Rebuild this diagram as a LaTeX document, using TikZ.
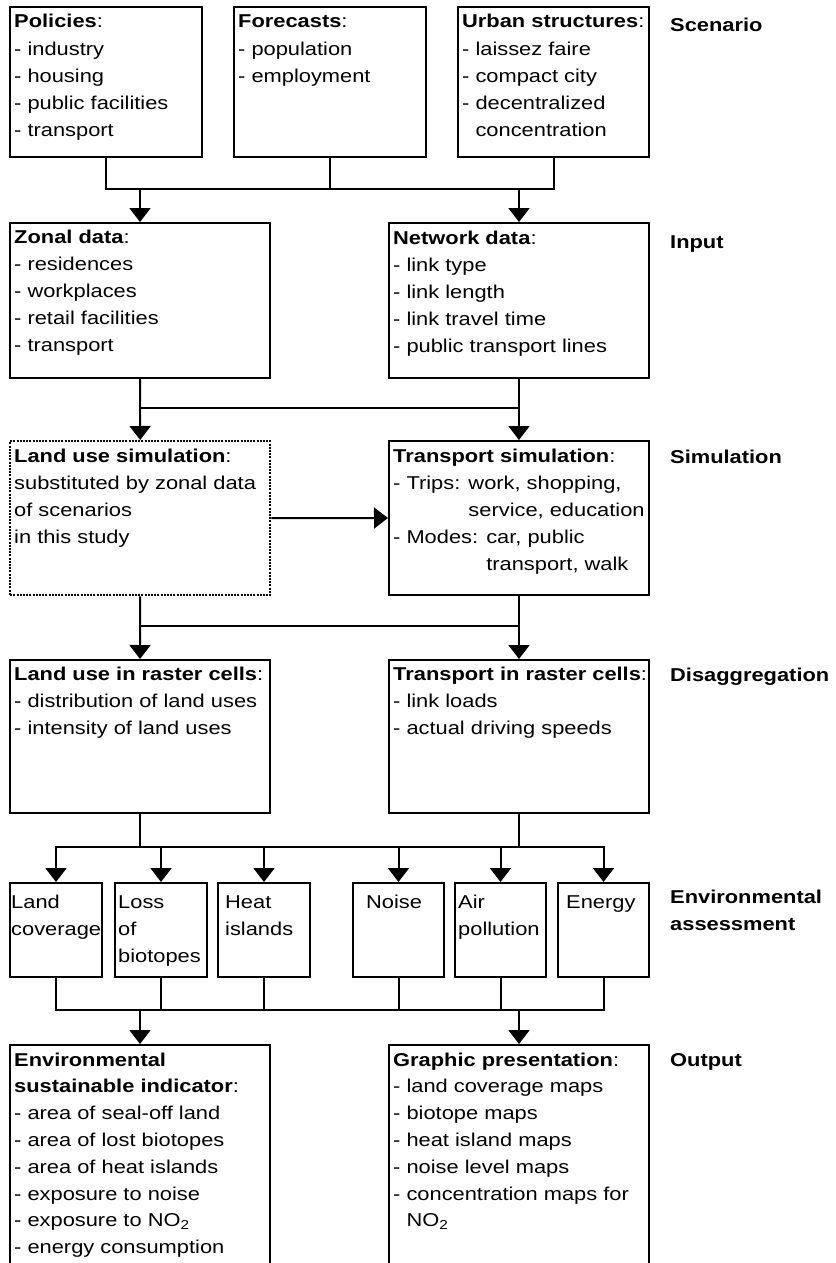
\documentclass[tikz,border=0pt]{standalone}
\usepackage{fontspec}
\setmainfont{Liberation Sans}[FakeStretch=1.175]
\usetikzlibrary{arrows.meta}

% multi-line box text; baseline of the node is the first line
\newcommand\lines[1]{\begin{tabular}[t]{@{}l@{}}#1\end{tabular}}
\newcommand\bodyfont{\fontsize{18.6}{27.2}\selectfont}

\tikzset{
  box/.style={draw, line width=2pt, anchor=north west, inner sep=0pt},
  dotbox/.style={box, line width=2.4pt, dash pattern=on 2pt off 1.2pt},
  txt/.style={anchor=base west, inner sep=0pt},
  wire/.style={line width=2pt, line cap=rect},
  arr/.style={line width=2pt, -{Triangle[width=21pt,length=14pt]}},
  stage/.style={anchor=base west, inner sep=0pt, font=\bodyfont\bfseries},
}

\begin{document}
\begin{tikzpicture}[x=1pt, y=-1pt, font=\bodyfont]
\clip (0,0) rectangle (835,1263);
\fill[white] (0,0) rectangle (835,1263);

% ---------- Scenario ----------
\node[box, minimum width=192pt, minimum height=150pt] (pol) at (9,6) {};
\node[box, minimum width=192pt, minimum height=150pt] (fore) at (233,6) {};
\node[box, minimum width=191pt, minimum height=150pt] (urb) at (457,6) {};
\node[txt] (polT) at ([xshift=5pt,yshift=-22pt]pol.north west)
  {\lines{\textbf{Policies}:\\- industry\\- housing\\- public facilities\\- transport}};
\node[txt] (foreT) at ([xshift=5pt,yshift=-22pt]fore.north west)
  {\lines{\textbf{Forecasts}:\\- population\\- employment}};
\node[txt] (urbT) at ([xshift=5pt,yshift=-22pt]urb.north west)
  {\lines{\textbf{Urban structures}:\\- laissez faire\\- compact city\\- decentralized\\\phantom{- }concentration}};

% ---------- Input ----------
\node[box, minimum width=260pt, minimum height=155pt] (zon) at (9,222) {};
\node[box, minimum width=260pt, minimum height=155pt] (net) at (388,222) {};
\node[txt] (zonT) at ([xshift=5pt,yshift=-21pt]zon.north west)
  {\lines{\textbf{Zonal data}:\\- residences\\- workplaces\\- retail facilities\\- transport}};
\node[txt] (netT) at ([xshift=5pt,yshift=-22pt]net.north west)
  {\lines{\textbf{Network data}:\\- link type\\- link length\\- link travel time\\- public transport lines}};

% ---------- Simulation ----------
\node[dotbox, minimum width=260pt, minimum height=154pt] (lus) at (9,440) {};
\node[box, minimum width=260pt, minimum height=154pt] (tsim) at (388,440) {};
\node[txt] (lusT) at ([xshift=5pt,yshift=-22pt]lus.north west)
  {\lines{\textbf{Land use simulation}:\\substituted by zonal data\\of scenarios\\in this study}};
\node[txt] (tsimT) at ([xshift=5pt,yshift=-22pt]tsim.north west)
  {\lines{\textbf{Transport simulation}:\\- Trips: work, shopping,\\\phantom{- Trips: }service, education\\- Modes: car, public\\\phantom{- Modes: }transport, walk}};

% ---------- Disaggregation ----------
\node[box, minimum width=260pt, minimum height=153pt] (lur) at (9,659) {};
\node[box, minimum width=260pt, minimum height=153pt] (trr) at (388,659) {};
\node[txt] (lurT) at ([xshift=5pt,yshift=-21pt]lur.north west)
  {\lines{\textbf{Land use in raster cells}:\\- distribution of land uses\\- intensity of land uses}};
\node[txt] (trrT) at ([xshift=5pt,yshift=-21pt]trr.north west)
  {\lines{\textbf{Transport in raster cells}:\\- link loads\\- actual driving speeds}};

% ---------- Environmental assessment ----------
\node[box, minimum width=92pt, minimum height=94pt] (e1) at (9,882) {};
\node[box, minimum width=92pt, minimum height=94pt] (e2) at (114,882) {};
\node[box, minimum width=92pt, minimum height=94pt] (e3) at (217,882) {};
\node[box, minimum width=91pt, minimum height=94pt] (e4) at (352,882) {};
\node[box, minimum width=91pt, minimum height=94pt] (e5) at (454,882) {};
\node[box, minimum width=91pt, minimum height=94pt] (e6) at (557,882) {};
\node[txt] (e1T) at ([xshift=2pt,yshift=-26pt]e1.north west) {\lines{Land\\coverage}};
\node[txt] (e2T) at ([xshift=4pt,yshift=-26pt]e2.north west) {\lines{Loss\\of\\biotopes}};
\node[txt] (e3T) at ([xshift=8pt,yshift=-26pt]e3.north west) {\lines{Heat\\islands}};
\node[txt] (e4T) at ([xshift=14pt,yshift=-26pt]e4.north west) {\lines{Noise}};
\node[txt] (e5T) at ([xshift=4pt,yshift=-26pt]e5.north west) {\lines{Air\\pollution}};
\node[txt] (e6T) at ([xshift=9pt,yshift=-26pt]e6.north west) {\lines{Energy}};

% ---------- Output ----------
\node[box, minimum width=260pt, minimum height=240pt] (ind) at (9,1044) {};
\node[box, minimum width=260pt, minimum height=240pt] (gra) at (388,1044) {};
\node[txt] (indT) at ([xshift=5pt,yshift=-22pt]ind.north west)
  {\fontsize{18.6}{26.8}\selectfont\lines{\textbf{Environmental}\\\textbf{sustainable indicator}:\\- area of seal-off land\\- area of lost biotopes\\- area of heat islands\\- exposure to noise\\- exposure to NO\textsubscript{2}\\- energy consumption}};
\node[txt] (graT) at ([xshift=5pt,yshift=-22pt]gra.north west)
  {\fontsize{18.6}{26.8}\selectfont\lines{\textbf{Graphic presentation}:\\- land coverage maps\\- biotope maps\\- heat island maps\\- noise level maps\\- concentration maps for\\\phantom{- }NO\textsubscript{2}}};

% ---------- stage labels ----------
\node[stage] (sScen) at (670,32) {Scenario};
\node[stage] (sInp) at (670,248) {Input};
\node[stage] (sSim) at (670,463) {Simulation};
\node[stage] (sDis) at (670,681) {Disaggregation};
\node[stage] (sEnv) at (670,903) {\lines{Environmental\\assessment}};
\node[stage] (sOut) at (670,1066) {Output};

% ---------- connectors ----------
\coordinate (busA) at (0,189);
\coordinate (busB) at (0,408);
\coordinate (busC) at (0,626);
\coordinate (busD) at (0,847);
\coordinate (busE) at (0,1010);

% scenario -> input
\draw[wire] (pol.south) |- (urb.south |- busA) -- (urb.south);
\draw[wire] (fore.south) -- (fore.south |- busA);
\draw[arr] (zon.north |- busA) -- (zon.north);
\draw[arr] (net.north |- busA) -- (net.north);

% input -> simulation
\draw[wire] (zon.south |- busB) -- (net.south |- busB);
\draw[arr] (zon.south) -- (lus.north);
\draw[arr] (net.south) -- (tsim.north);
\draw[arr] (lus.east) -- (tsim.west);

% simulation -> disaggregation
\draw[wire] (lus.south |- busC) -- (tsim.south |- busC);
\draw[arr] (lus.south) -- (lur.north);
\draw[arr] (tsim.south) -- (trr.north);

% disaggregation -> assessment
\draw[wire] (lur.south) -- (lur.south |- busD);
\draw[wire] (trr.south) -- (trr.south |- busD);
\draw[wire] (e1.north |- busD) -- (e6.north |- busD);
\foreach \e in {e1,e2,e3,e4,e5,e6}
  \draw[arr] (\e.north |- busD) -- (\e.north);

% assessment -> output
\foreach \e in {e1,e2,e3,e4,e5,e6}
  \draw[wire] (\e.south) -- (\e.south |- busE);
\draw[wire] (e1.south |- busE) -- (e6.south |- busE);
\draw[arr] (ind.north |- busE) -- (ind.north);
\draw[arr] (gra.north |- busE) -- (gra.north);
\end{tikzpicture}
\end{document}
